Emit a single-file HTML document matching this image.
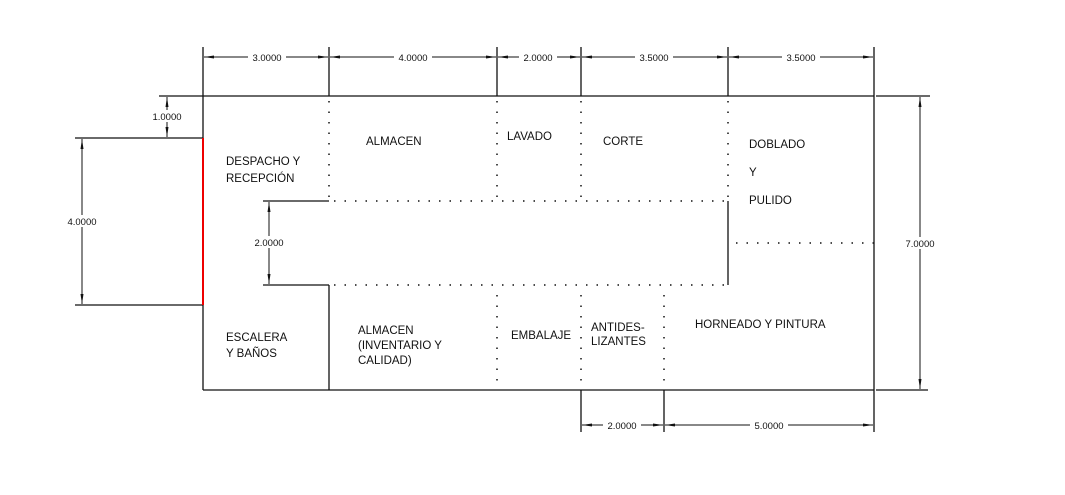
<!DOCTYPE html>
<html><head><meta charset="utf-8"><style>
html,body{margin:0;padding:0;background:#fff;width:1065px;height:495px;overflow:hidden}
svg text{font-family:"Liberation Sans",sans-serif;fill:#111}
.d{font-size:9.5px}
.l{font-size:11.5px}
</style></head><body>
<svg width="1065" height="495" xmlns="http://www.w3.org/2000/svg">
<defs>
<marker id="a" markerWidth="10" markerHeight="6" refX="10" refY="3" orient="auto-start-reverse" markerUnits="userSpaceOnUse"><path d="M0,1.5 L10,3 L0,4.5z" fill="#111"/></marker>
</defs>
<g stroke="#111" stroke-width="1.3" fill="none">
<!-- outer building -->
<line x1="203" y1="96" x2="874" y2="96"/>
<line x1="874" y1="96" x2="874" y2="390"/>
<line x1="203" y1="390" x2="874" y2="390"/>
<line x1="203" y1="96" x2="203" y2="138"/>
<line x1="203" y1="305" x2="203" y2="390"/>
<!-- corridor -->
<line x1="263" y1="201" x2="329" y2="201"/>
<line x1="263" y1="285" x2="329" y2="285"/>
<line x1="329" y1="285" x2="329" y2="390"/>
<line x1="728" y1="201" x2="728" y2="285"/>
<!-- top ext lines -->
<line x1="203" y1="47" x2="203" y2="96"/>
<line x1="329" y1="47" x2="329" y2="96"/>
<line x1="497" y1="47" x2="497" y2="96"/>
<line x1="581" y1="47" x2="581" y2="96"/>
<line x1="728" y1="47" x2="728" y2="96"/>
<line x1="874" y1="47" x2="874" y2="96"/>
<!-- left ext -->
<line x1="159" y1="96" x2="203" y2="96"/>
<line x1="75" y1="138" x2="203" y2="138"/>
<line x1="75" y1="305" x2="203" y2="305"/>
<!-- right ext -->
<line x1="876" y1="96" x2="930" y2="96"/>
<line x1="876" y1="390" x2="928" y2="390"/>
<!-- bottom ext -->
<line x1="581" y1="390" x2="581" y2="432"/>
<line x1="664" y1="390" x2="664" y2="432"/>
<line x1="874" y1="390" x2="874" y2="432"/>
</g>
<line x1="203" y1="138" x2="203" y2="305" stroke="#e00" stroke-width="2"/>
<!-- dotted -->
<g stroke="#111" stroke-width="1.5" stroke-dasharray="1.5 9" fill="none">
<line x1="329" y1="101" x2="329" y2="201"/>
<line x1="497" y1="101" x2="497" y2="201"/>
<line x1="581" y1="101" x2="581" y2="201"/>
<line x1="728" y1="101" x2="728" y2="201"/>
<line x1="334" y1="201" x2="728" y2="201"/>
<line x1="334" y1="285" x2="728" y2="285"/>
<line x1="497" y1="295" x2="497" y2="385"/>
<line x1="581" y1="295" x2="581" y2="385"/>
<line x1="664" y1="295" x2="664" y2="385"/>
<line x1="736" y1="243" x2="874" y2="243"/>
</g>
<!-- dimension lines -->
<g stroke="#111" stroke-width="1" fill="none" marker-start="url(#a)" marker-end="url(#a)">
<line x1="204" y1="57" x2="328" y2="57"/>
<line x1="330" y1="57" x2="496" y2="57"/>
<line x1="498" y1="57" x2="580" y2="57"/>
<line x1="582" y1="57" x2="727" y2="57"/>
<line x1="729" y1="57" x2="873" y2="57"/>
<line x1="167" y1="97" x2="167" y2="137"/>
<line x1="82" y1="139" x2="82" y2="304"/>
<line x1="269" y1="202" x2="269" y2="284"/>
<line x1="920" y1="97" x2="920" y2="389"/>
<line x1="582" y1="425" x2="663" y2="425"/>
<line x1="665" y1="425" x2="873" y2="425"/>
</g>
<!-- dim label backgrounds -->
<g fill="#fff">
<rect x="248" y="51" width="38" height="12"/>
<rect x="394" y="51" width="38" height="12"/>
<rect x="519" y="51" width="38" height="12"/>
<rect x="635" y="51" width="38" height="12"/>
<rect x="782" y="51" width="38" height="12"/>
<rect x="148" y="110" width="38" height="12"/>
<rect x="63" y="215" width="38" height="12"/>
<rect x="250" y="236" width="38" height="12"/>
<rect x="900" y="237" width="40" height="12"/>
<rect x="603" y="419" width="38" height="12"/>
<rect x="750" y="419" width="38" height="12"/>
</g>
<g class="d" text-anchor="middle">
<text x="267" y="61">3.0000</text>
<text x="413" y="61">4.0000</text>
<text x="538" y="61">2.0000</text>
<text x="654" y="61">3.5000</text>
<text x="801" y="61">3.5000</text>
<text x="167" y="120">1.0000</text>
<text x="82" y="225">4.0000</text>
<text x="269" y="246">2.0000</text>
<text x="920" y="247">7.0000</text>
<text x="622" y="429">2.0000</text>
<text x="769" y="429">5.0000</text>
</g>
<g class="l">
<text x="226" y="165">DESPACHO Y</text>
<text x="226" y="182">RECEPCIÓN</text>
<text x="366" y="145">ALMACEN</text>
<text x="507" y="140">LAVADO</text>
<text x="603" y="145">CORTE</text>
<text x="749" y="148">DOBLADO</text>
<text x="749" y="176">Y</text>
<text x="749" y="204">PULIDO</text>
<text x="226" y="341">ESCALERA</text>
<text x="226" y="357">Y BAÑOS</text>
<text x="358" y="334">ALMACEN</text>
<text x="358" y="349">(INVENTARIO Y</text>
<text x="358" y="364">CALIDAD)</text>
<text x="511" y="339">EMBALAJE</text>
<text x="591" y="331">ANTIDES-</text>
<text x="591" y="345">LIZANTES</text>
<text x="695" y="328">HORNEADO Y PINTURA</text>
</g>
</svg>
</body></html>
